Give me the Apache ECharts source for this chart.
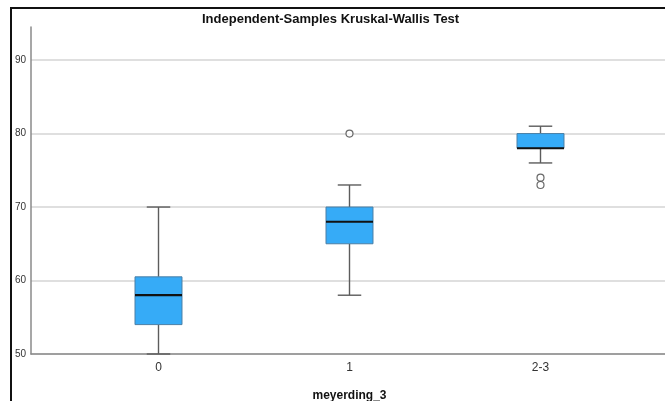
<!DOCTYPE html>
<html>
<head>
<meta charset="utf-8">
<script src="https://cdn.jsdelivr.net/npm/echarts@6/dist/echarts.min.js"></script>
<style>
  html, body { margin: 0; padding: 0; background: #fff; }
  #chart { width: 665px; height: 401px; }
</style>
</head>
<body>
<div id="chart"></div>
<script>
// Groups and five-number summaries per group
const categories = ['0', '1', '2-3'];
const minValues = [50, 58, 76];
const q1Values = [54, 65, 78];
const medianValues = [58, 68, 78];
const q3Values = [60.5, 70, 80];
const maxValues = [70, 73, 81];

// Outliers: group index and value
const outlierGroups = [1, 2, 2];
const outlierValues = [80, 74, 73];

// Value axis
const yMin = 50;
const yMax = 94.5;
const yInterval = 10;

const boxData = categories.map((c, i) => [i, minValues[i], q1Values[i], medianValues[i], q3Values[i], maxValues[i]]);
const outlierData = outlierGroups.map((g, i) => [g, outlierValues[i]]);

const chart = echarts.init(document.getElementById('chart'), null, { renderer: 'canvas' });

const FONT = 'Liberation Sans, Arial, sans-serif';

function renderBox(params, api) {
  const x = api.value(0);
  const pMin = api.coord([x, api.value(1)]);
  const pQ1 = api.coord([x, api.value(2)]);
  const pMed = api.coord([x, api.value(3)]);
  const pQ3 = api.coord([x, api.value(4)]);
  const pMax = api.coord([x, api.value(5)]);
  const band = api.size([1, 0])[0];
  const boxW = band * 0.246;
  const capW = boxW / 2;
  const cx = pMed[0];
  const whisker = { stroke: '#5c5c5c', lineWidth: 1.4 };
  return {
    type: 'group',
    children: [
      { type: 'line', shape: { x1: cx, y1: pMax[1], x2: cx, y2: pQ3[1] }, style: whisker },
      { type: 'line', shape: { x1: cx, y1: pQ1[1], x2: cx, y2: pMin[1] }, style: whisker },
      { type: 'line', shape: { x1: cx - capW / 2, y1: pMax[1], x2: cx + capW / 2, y2: pMax[1] }, style: whisker },
      { type: 'line', shape: { x1: cx - capW / 2, y1: pMin[1], x2: cx + capW / 2, y2: pMin[1] }, style: whisker },
      {
        type: 'rect',
        shape: { x: cx - boxW / 2, y: pQ3[1], width: boxW, height: pQ1[1] - pQ3[1] },
        style: { fill: '#36abf7', stroke: '#4a7fa6', lineWidth: 1 }
      },
      {
        type: 'line',
        shape: { x1: cx - boxW / 2, y1: pMed[1], x2: cx + boxW / 2, y2: pMed[1] },
        style: { stroke: '#111', lineWidth: 2.2 }
      }
    ]
  };
}

const option = {
  animation: false,
  backgroundColor: '#fff',
  title: {
    text: 'Independent-Samples Kruskal-Wallis Test',
    left: 197,
    top: 8,
    textStyle: { fontFamily: FONT, fontSize: 13, fontWeight: 'bold', color: '#111' }
  },
  graphic: [
    {
      type: 'polyline',
      shape: { points: [[11, 401], [11, 8], [665, 8]] },
      style: { stroke: '#111', lineWidth: 2, fill: null },
      silent: true
    }
  ],
  grid: [
    { left: 31, right: 0, top: 27, bottom: 47, outerBoundsMode: 'none', containLabel: false },
    { left: 63, right: 29, top: 27, bottom: 47, outerBoundsMode: 'none', containLabel: false }
  ],
  xAxis: [
    {
      gridIndex: 0,
      type: 'value',
      min: 0,
      max: 1,
      axisLine: { show: true, lineStyle: { color: '#8a8a8a', width: 1.5 } },
      axisTick: { show: false },
      axisLabel: { show: false },
      splitLine: { show: false }
    },
    {
      gridIndex: 1,
      type: 'category',
      data: categories,
      axisLine: { show: false },
      axisTick: { show: false },
      axisLabel: { fontFamily: FONT, fontSize: 12, color: '#333', margin: 8 },
      name: 'meyerding_3',
      nameLocation: 'middle',
      nameGap: 36,
      nameTextStyle: { fontFamily: FONT, fontSize: 12, fontWeight: 'bold', color: '#111' }
    }
  ],
  yAxis: [
    {
      gridIndex: 0,
      type: 'value',
      min: yMin,
      max: yMax,
      interval: yInterval,
      axisLine: { show: true, lineStyle: { color: '#8a8a8a', width: 1.5 } },
      axisTick: { show: false },
      axisLabel: {
        fontFamily: FONT, fontSize: 10, color: '#333', margin: 5,
        showMaxLabel: false,
        formatter: v => (v % yInterval === 0 ? String(v) : '')
      },
      splitLine: { show: true, showMaxLine: false, lineStyle: { color: '#d4d4d4', width: 1.5 } }
    },
    {
      gridIndex: 1,
      type: 'value',
      min: yMin,
      max: yMax,
      interval: yInterval,
      show: false,
      splitLine: { show: false }
    }
  ],
  series: [
    {
      type: 'custom',
      xAxisIndex: 1,
      yAxisIndex: 1,
      renderItem: renderBox,
      encode: { x: 0, y: [1, 2, 3, 4, 5] },
      data: boxData,
      z: 3
    },
    {
      type: 'scatter',
      xAxisIndex: 1,
      yAxisIndex: 1,
      symbol: 'circle',
      symbolSize: 7,
      itemStyle: { color: '#fff', borderColor: '#444', borderWidth: 1.2 },
      data: outlierData,
      z: 4
    }
  ]
};

chart.setOption(option);
</script>
</body>
</html>
